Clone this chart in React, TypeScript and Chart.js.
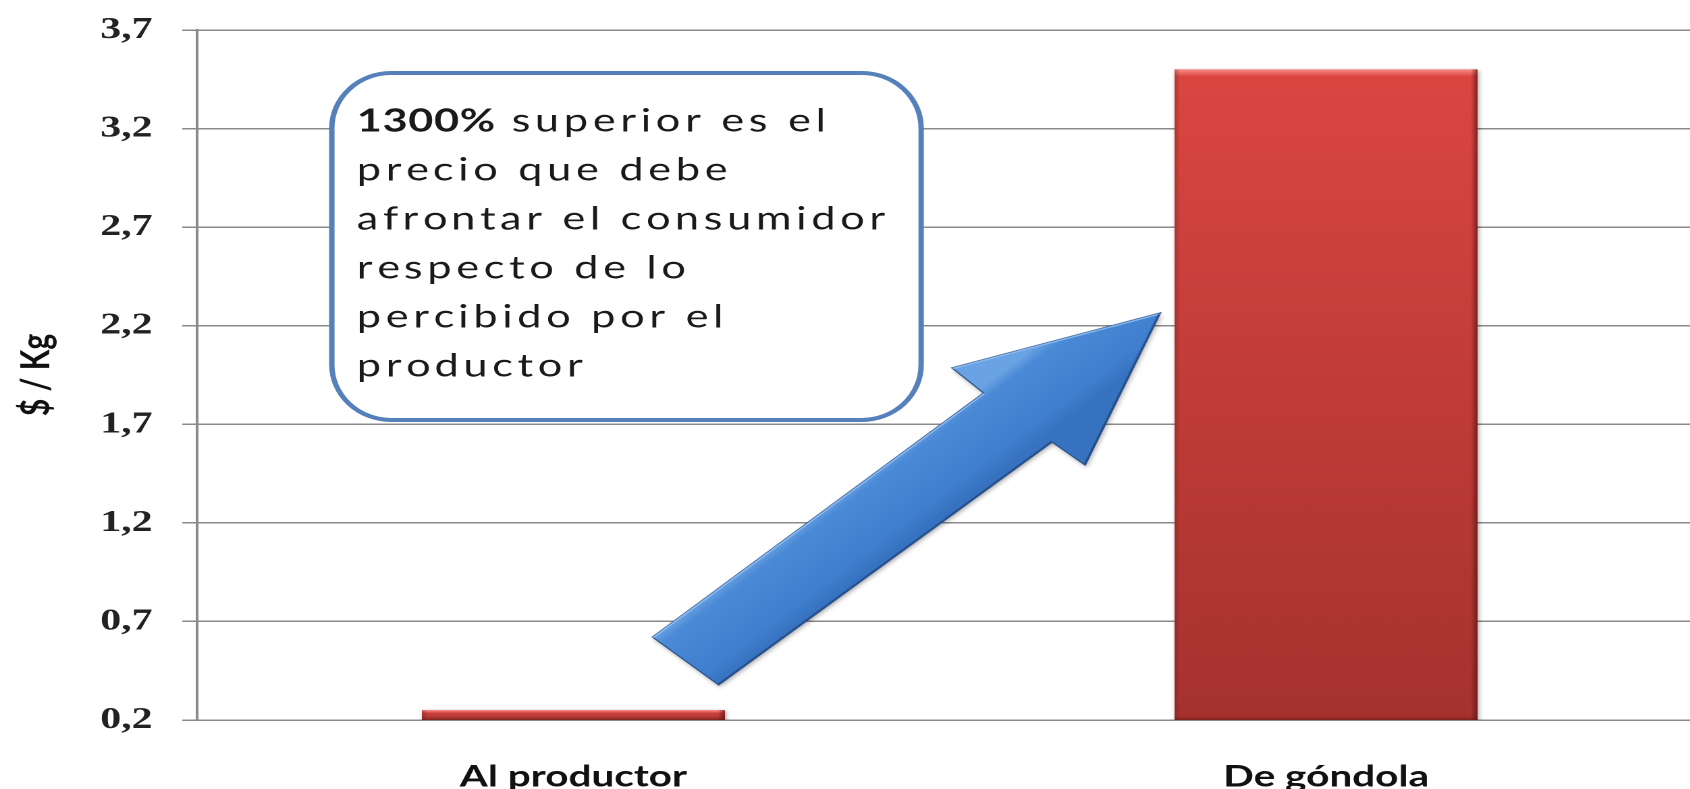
import React, { useEffect, useRef } from 'react';
import { Chart, registerables } from 'chart.js';

Chart.register(...registerables);

// ---- data ----
const CATEGORIES = ['Al productor', 'De góndola'];
const PRICES = [0.25, 3.5];
const Y_TICK_VALUES = [0.2, 0.7, 1.2, 1.7, 2.2, 2.7, 3.2, 3.7];
const Y_TICK_LABELS = ['0,2', '0,7', '1,2', '1,7', '2,2', '2,7', '3,2', '3,7'];
const Y_TITLE = '$ / Kg';
const CALLOUT_BOLD = '1300%';
const CALLOUT_LINES = [
  ' superior es el',
  'precio que debe',
  'afrontar el consumidor',
  'respecto de lo',
  'percibido por el',
  'productor',
];

// ---- annotation anchors, in data units (category index, $/Kg) ----
const CALLOUT_BOX = { left: -0.321, right: 0.462, top: 3.482, bottom: 1.722 };
const ARROW_SHAPE: [number, number][] = [
  [0.105, 0.621],
  [0.545, 1.859],
  [0.503, 1.986],
  [0.780, 2.265],
  [0.680, 1.493],
  [0.636, 1.610],
  [0.193, 0.378],
];

// ---- layout / style ----
const VIEW_W = 1690;
const VIEW_H = 789;
const STRETCH = 1.35;
const CANVAS_W = 1261;
const GRID = '#8a8a8a';
const CALLOUT_SPACING = 3.5;

const barFill = (c: any) => {
  const chart = c.chart;
  const ys = chart.scales && chart.scales.y;
  if (!ys || c.type !== 'data' || !c.parsed) return '#c83c38';
  const top = ys.getPixelForValue(c.parsed.y);
  const base = ys.getBasePixel();
  if (!isFinite(top) || !isFinite(base) || base - top < 1) return '#c83c38';
  const g = chart.ctx.createLinearGradient(0, top, 0, base);
  g.addColorStop(0, '#db4641');
  g.addColorStop(1, '#a5322f');
  return g;
};

function spacedText(ctx: CanvasRenderingContext2D, text: string, x: number, y: number, sp: number) {
  for (let i = 0; i < text.length; i++) {
    const off = ctx.measureText(text.slice(0, i)).width + i * sp;
    ctx.fillText(text[i], x + off, y);
  }
  return ctx.measureText(text).width + text.length * sp;
}

const decorPlugin = {
  id: 'decor',
  beforeDatasetDraw(chart: any) {
    const ctx = chart.ctx;
    ctx.save();
    ctx.shadowColor = 'rgba(0,0,0,0.35)';
    ctx.shadowBlur = 7;
    ctx.shadowOffsetX = 2;
    ctx.shadowOffsetY = 2;
  },
  afterDatasetDraw(chart: any, args: any) {
    const ctx = chart.ctx;
    ctx.restore();
    const bottom = chart.chartArea.bottom;
    args.meta.data.forEach((el: any) => {
      const p = el.getProps(['x', 'y', 'base', 'width'], true);
      const x = p.x;
      const y = p.y;
      const width = p.width;
      const base = Math.min(p.base, bottom);
      const l = x - width / 2;
      const r = x + width / 2;
      const h = base - y;
      if (h <= 0) return;
      const e = Math.min(7, h * 0.3);
      let g = ctx.createLinearGradient(0, y, 0, y + e);
      g.addColorStop(0, 'rgba(255,150,145,0.9)');
      g.addColorStop(1, 'rgba(255,150,145,0)');
      ctx.fillStyle = g;
      ctx.fillRect(l, y, width, e);
      const ew = 5;
      g = ctx.createLinearGradient(r - ew, 0, r, 0);
      g.addColorStop(0, 'rgba(90,18,16,0)');
      g.addColorStop(1, 'rgba(90,18,16,0.7)');
      ctx.fillStyle = g;
      ctx.fillRect(r - ew, y, ew, h);
      g = ctx.createLinearGradient(l, 0, l + 4, 0);
      g.addColorStop(0, 'rgba(110,25,22,0.4)');
      g.addColorStop(1, 'rgba(110,25,22,0)');
      ctx.fillStyle = g;
      ctx.fillRect(l, y, 4, h);
      const eb = Math.min(4, h * 0.3);
      g = ctx.createLinearGradient(0, base - eb, 0, base);
      g.addColorStop(0, 'rgba(90,18,16,0)');
      g.addColorStop(1, 'rgba(90,18,16,0.5)');
      ctx.fillStyle = g;
      ctx.fillRect(l, base - eb, width, eb);
    });
  },
  afterDatasetsDraw(chart: any) {
    const ctx: CanvasRenderingContext2D = chart.ctx;
    const xs = chart.scales.x;
    const ys = chart.scales.y;

    // arrow
    const pts = ARROW_SHAPE.map(([v, val]) => [xs.getPixelForValue(v), ys.getPixelForValue(val)]);
    const path = () => {
      ctx.beginPath();
      pts.forEach((p, i) => (i ? ctx.lineTo(p[0], p[1]) : ctx.moveTo(p[0], p[1])));
      ctx.closePath();
    };
    ctx.save();
    path();
    ctx.shadowColor = 'rgba(0,0,0,0.35)';
    ctx.shadowBlur = 9;
    ctx.shadowOffsetX = 2;
    ctx.shadowOffsetY = 4;
    const ag = ctx.createLinearGradient(pts[0][0], pts[0][1], pts[6][0], pts[6][1]);
    ag.addColorStop(0, '#6aa3e3');
    ag.addColorStop(0.14, '#4b8ad6');
    ag.addColorStop(0.8, '#3f7ecd');
    ag.addColorStop(1, '#3672c0');
    ctx.fillStyle = ag;
    ctx.fill();
    ctx.shadowColor = 'transparent';
    ctx.strokeStyle = 'rgba(38,80,140,0.9)';
    ctx.lineWidth = 1.2;
    ctx.stroke();
    ctx.clip();
    ctx.strokeStyle = 'rgba(150,195,245,0.8)';
    ctx.lineWidth = 3;
    ctx.beginPath();
    ctx.moveTo(pts[0][0], pts[0][1]);
    ctx.lineTo(pts[1][0], pts[1][1]);
    ctx.moveTo(pts[2][0], pts[2][1]);
    ctx.lineTo(pts[3][0], pts[3][1]);
    ctx.stroke();
    ctx.strokeStyle = 'rgba(30,65,120,0.55)';
    ctx.beginPath();
    ctx.moveTo(pts[3][0], pts[3][1]);
    ctx.lineTo(pts[4][0], pts[4][1]);
    ctx.moveTo(pts[5][0], pts[5][1]);
    ctx.lineTo(pts[6][0], pts[6][1]);
    ctx.stroke();
    ctx.restore();

    // callout box
    const x0 = xs.getPixelForValue(CALLOUT_BOX.left);
    const x1 = xs.getPixelForValue(CALLOUT_BOX.right);
    const y0 = ys.getPixelForValue(CALLOUT_BOX.top);
    const y1 = ys.getPixelForValue(CALLOUT_BOX.bottom);
    const rx = 44;
    const ry = 55;
    ctx.save();
    ctx.beginPath();
    ctx.moveTo(x0 + rx, y0);
    ctx.lineTo(x1 - rx, y0);
    ctx.ellipse(x1 - rx, y0 + ry, rx, ry, 0, -Math.PI / 2, 0);
    ctx.lineTo(x1, y1 - ry);
    ctx.ellipse(x1 - rx, y1 - ry, rx, ry, 0, 0, Math.PI / 2);
    ctx.lineTo(x0 + rx, y1);
    ctx.ellipse(x0 + rx, y1 - ry, rx, ry, 0, Math.PI / 2, Math.PI);
    ctx.lineTo(x0, y0 + ry);
    ctx.ellipse(x0 + rx, y0 + ry, rx, ry, 0, Math.PI, Math.PI * 1.5);
    ctx.closePath();
    ctx.fillStyle = '#ffffff';
    ctx.fill();
    ctx.strokeStyle = '#5580b9';
    ctx.lineWidth = 4;
    ctx.stroke();

    // callout text
    const tx = x0 + 18.5;
    let ty = y0 + 58.5;
    ctx.fillStyle = '#1a1a1a';
    ctx.textBaseline = 'alphabetic';
    ctx.textAlign = 'left';
    ctx.font = 'bold 32px Lato';
    const bw = spacedText(ctx, CALLOUT_BOLD, tx, ty, 0.5);
    ctx.font = '32px Lato';
    CALLOUT_LINES.forEach((line, i) => {
      spacedText(ctx, line, i === 0 ? tx + bw : tx, ty, CALLOUT_SPACING);
      ty += 49;
    });
    ctx.restore();
  },
};

export default function App() {
  const ref = useRef<HTMLCanvasElement>(null);
  useEffect(() => {
    const canvas = ref.current!;
    const chart = new Chart(canvas, {
      type: 'bar',
      data: {
        labels: CATEGORIES,
        datasets: [
          {
            data: PRICES,
            backgroundColor: barFill,
            borderWidth: 0,
            barPercentage: 0.4026,
            categoryPercentage: 1,
          },
        ],
      },
      options: {
        responsive: false,
        animation: false,
        devicePixelRatio: 2,
        layout: { padding: { top: 30, left: 0, right: 0, bottom: 0 } },
        plugins: { legend: { display: false }, tooltip: { enabled: false } },
        scales: {
          x: {
            type: 'category',
            offset: true,
            grid: { display: false, drawTicks: false },
            border: { display: true, color: GRID, width: 1.5 },
            ticks: {
              font: { family: 'Lato', weight: 'bold', size: 30 },
              color: '#111',
              padding: 39,
              maxRotation: 0,
              autoSkip: false,
            },
            afterFit: (s: any) => {
              s.height = 69;
            },
          },
          y: {
            type: 'linear',
            min: 0.2,
            max: 3.7,
            afterBuildTicks: (s: any) => {
              s.ticks = Y_TICK_VALUES.map((v) => ({ value: v }));
            },
            ticks: {
              callback: (_v: any, i: number) => Y_TICK_LABELS[i],
              font: { family: 'Liberation Serif', weight: 'bold', size: 31 },
              color: '#222',
              padding: 22,
            },
            grid: { color: GRID, lineWidth: 1.5, tickLength: 11 },
            border: { display: true, color: GRID, width: 2 },
            title: {
              display: true,
              text: Y_TITLE,
              font: { family: 'Lato', weight: 'bold', size: 30 },
              color: '#111',
              padding: { top: 9, bottom: 0 },
            },
            afterFit: (s: any) => {
              s.width = 146;
              s.paddingTop = 10;
              s.paddingBottom = 10;
            },
          },
        },
      },
      plugins: [decorPlugin],
    } as any);
    return () => chart.destroy();
  }, []);

  return (
    <div
      style={{
        position: 'absolute',
        left: 0,
        top: 0,
        width: VIEW_W,
        height: VIEW_H,
        overflow: 'hidden',
        background: '#fff',
      }}
    >
      <div style={{ width: CANVAS_W, height: VIEW_H, transform: `scaleX(${STRETCH})`, transformOrigin: '0 0' }}>
        <canvas ref={ref} width={CANVAS_W} height={VIEW_H} style={{ width: CANVAS_W, height: VIEW_H, display: 'block' }} />
      </div>
    </div>
  );
}
